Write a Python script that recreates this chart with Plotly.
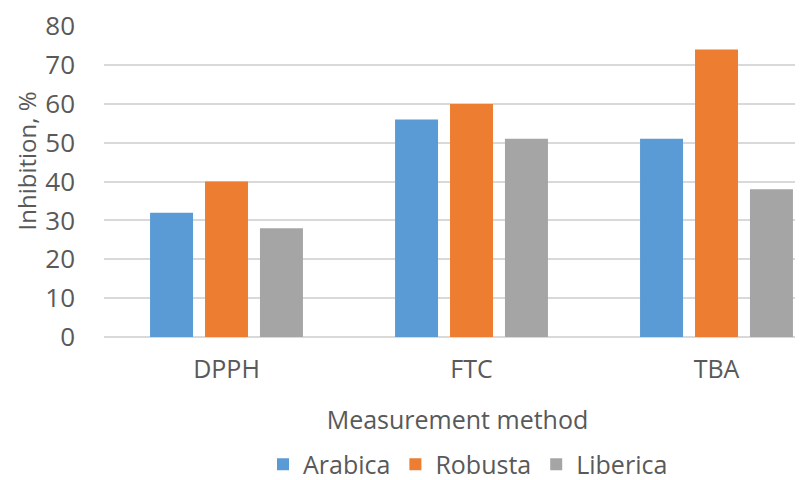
import plotly.graph_objects as go

methods = ["DPPH", "FTC", "TBA"]
arabica = [32, 56, 51]
robusta = [40, 60, 74]
liberica = [28, 51, 38]
series_names = ["Arabica", "Robusta", "Liberica"]
colors = ["#5B9BD5", "#ED7D31", "#A5A5A5"]
y_ticks = [0, 10, 20, 30, 40, 50, 60, 70, 80]

FONT = "Open Sans"
TXT = "#595959"

L, T, PH = 96, 18, 311
W, H = 803, 480
PW = W - L

fig = go.Figure()
for name, vals, c in zip(series_names, [arabica, robusta, liberica], colors):
    fig.add_trace(go.Bar(x=methods, y=vals, name=name, marker=dict(color=c, line=dict(width=0))))

fig.update_layout(
    width=W, height=H,
    margin=dict(l=L, r=0, t=T, b=H - T - PH, autoexpand=False),
    paper_bgcolor="white", plot_bgcolor="white",
    barmode="group", bargap=0.327, bargroupgap=0.218,
    font=dict(family=FONT, color=TXT, size=25),
    showlegend=True,
    legend=dict(orientation="h", x=(460 - L) / PW, xanchor="center", y=-0.41, yanchor="middle",
                font=dict(size=25, color=TXT, family=FONT), itemwidth=30,
                traceorder="normal"),
    xaxis=dict(range=[-0.5, -0.5 + PW / 245], showgrid=False, showline=False, ticks="", automargin=False,
               tickfont=dict(size=25, color=TXT), ticklabelstandoff=15,
               title=dict(text="Measurement method", font=dict(size=25, color=TXT), standoff=27)),
    yaxis=dict(range=[0, 80.05], tickvals=y_ticks, showgrid=True, gridcolor="#D9D9D9", gridwidth=1.5,
               zeroline=True, zerolinecolor="#D9D9D9", zerolinewidth=1.5, automargin=False,
               ticklabeloverflow="allow",
               showline=False, ticks="", tickfont=dict(size=26, color=TXT), ticklabelstandoff=28),
    annotations=[dict(text="Inhibition, %", textangle=-90, xref="paper", yref="paper",
                      x=(18 - L) / PW, y=(T + PH - 153.5) / PH, showarrow=False,
                      xanchor="center", yanchor="middle", font=dict(size=24, color=TXT, family=FONT))],
)

fig.write_html("out.html")
